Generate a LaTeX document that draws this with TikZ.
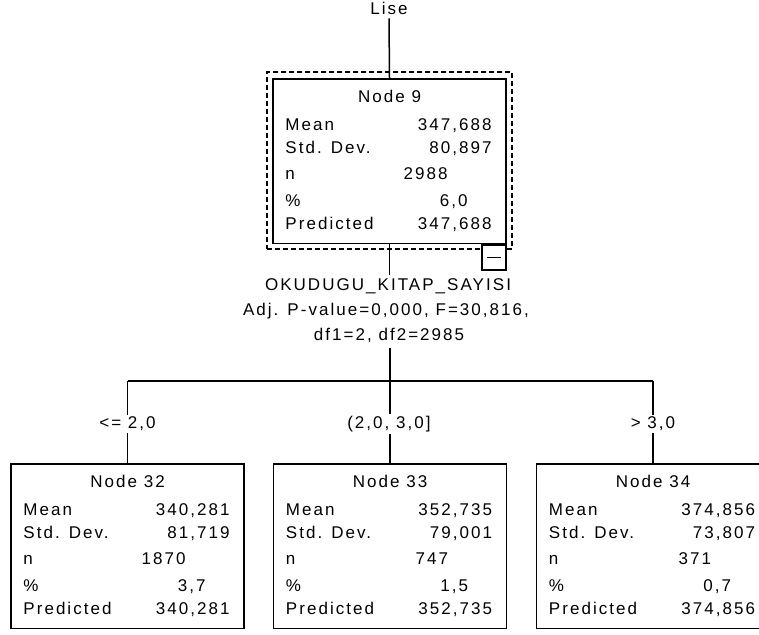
\documentclass[tikz,border=0pt]{standalone}
\usepackage{fontspec}
\setmainfont{Liberation Sans}[LetterSpace=12]
\usetikzlibrary{backgrounds}
\newcommand{\tfs}{\fontsize{17}{20}\selectfont}
\begin{document}
\begin{tikzpicture}[x=1pt,y=1pt,
  treebox/.style={draw, line width=1.5pt, minimum width=233pt, minimum height=164.5pt, inner sep=0pt, anchor=north},
  txt/.style={inner sep=0pt, font=\tfs},
  lbl/.style={inner sep=2pt, fill=white, font=\tfs},
  conn/.style={line width=1.5pt}
]
\useasboundingbox (0,0) rectangle (759,-634);
\newcommand{\nodetexts}[7]{%
  \node[txt, anchor=base] (#1-t) at ([yshift=-24.25pt]#1.north) {#2};
  \node[txt, anchor=base west] (#1-l1) at ([shift={(13pt,-52.75pt)}]#1.north west) {Mean};
  \node[txt, anchor=base east] (#1-v1) at ([shift={(-15pt,-52.75pt)}]#1.north east) {#3};
  \node[txt, anchor=base west] (#1-l2) at ([shift={(13pt,-75.75pt)}]#1.north west) {Std. Dev.};
  \node[txt, anchor=base east] (#1-v2) at ([shift={(-15pt,-75.75pt)}]#1.north east) {#4};
  \node[txt, anchor=base west] (#1-l3) at ([shift={(13pt,-101.75pt)}]#1.north west) {n};
  \node[txt, anchor=base east] (#1-v3) at ([shift={(-59pt,-101.75pt)}]#1.north east) {#5};
  \node[txt, anchor=base west] (#1-l4) at ([shift={(13pt,-128.75pt)}]#1.north west) {\%};
  \node[txt, anchor=base east] (#1-v4) at ([shift={(-39pt,-128.75pt)}]#1.north east) {#6};
  \node[txt, anchor=base west] (#1-l5) at ([shift={(13pt,-151.25pt)}]#1.north west) {Predicted};
  \node[txt, anchor=base east] (#1-v5) at ([shift={(-15pt,-151.25pt)}]#1.north east) {#7};
}
% root
\node[txt, anchor=base] (lise) at (389,-15) {Lise};
\node[draw, dashed, dash pattern=on 5pt off 3pt, line width=1.2pt, minimum width=245pt, minimum height=177pt, inner sep=0pt] (sel) at (389.5,-160.5) {};
\node[treebox, fill=white] (n9) at (389.5,-78) {};
\nodetexts{n9}{Node 9}{347,688}{80,897}{2988}{6,0}{347,688}
\node[draw, fill=white, line width=1.5pt, minimum width=24pt, minimum height=25pt, inner sep=0pt, anchor=north east] (col) at (n9.south east) {};
\draw[line width=1.3pt] ([xshift=-7pt]col.center) -- ([xshift=7pt]col.center);
% split label
\node[lbl, anchor=base, inner ysep=4pt] (sp1) at (388,-290.75) {OKUDUGU\_KITAP\_SAYISI};
\node[lbl, anchor=base] (sp2) at (386,-315.75) {Adj. P-value=0,000, F=30,816,};
\node[lbl, anchor=base, inner ysep=5pt] (sp3) at (389,-340.75) {df1=2, df2=2985};
% children
\node[treebox] (n32) at (127.5,-463) {};
\node[treebox] (n33) at (390,-463) {};
\node[treebox] (n34) at (653,-463) {};
\nodetexts{n32}{Node 32}{340,281}{81,719}{1870}{3,7}{340,281}
\nodetexts{n33}{Node 33}{352,735}{79,001}{747}{1,5}{352,735}
\nodetexts{n34}{Node 34}{374,856}{73,807}{371}{0,7}{374,856}
\coordinate (bar) at (390,-381);
\coordinate (bl) at (n32.north |- bar);
\coordinate (br) at (n34.north |- bar);
\node[lbl, anchor=base] (c32) at (127.5,-428.75) {<= 2,0};
\node[lbl, anchor=base] (c33) at (389,-428.75) {(2,0, 3,0]};
\node[lbl, anchor=base] (c34) at (653,-428.75) {> 3,0};
\begin{scope}[on background layer]
  \draw[conn] (lise.south) ++(0,-3pt) -- (n9.north);
  \draw[conn] (n9.south) -- (n9.south |- sp1.north);
  \draw[conn] (bar |- sp3.south) -- (bar);
  \draw[conn] (bl) -- (br);
  \draw[conn] (bl) -- (n32.north);
  \draw[conn] (bar) -- (n33.north);
  \draw[conn] (br) -- (n34.north);
\end{scope}
\end{tikzpicture}
\end{document}
